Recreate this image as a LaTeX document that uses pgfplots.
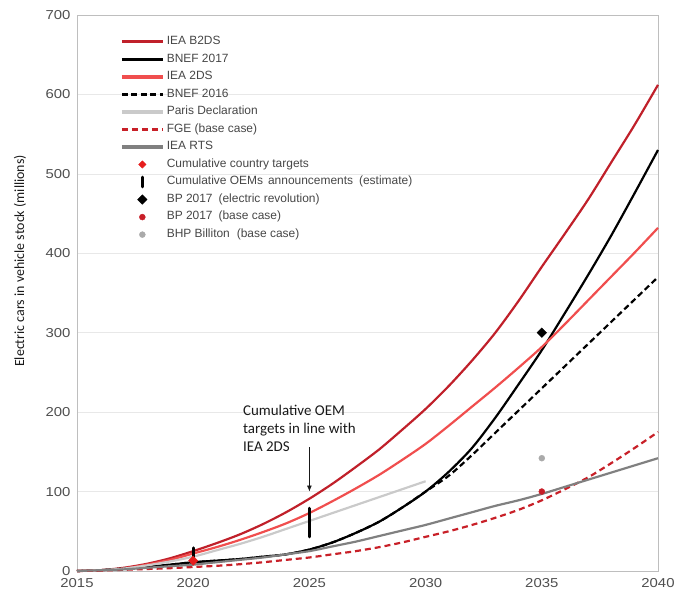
\documentclass[border=0pt]{standalone}
\usepackage{pgfplots}
\pgfplotsset{compat=1.18}
\usetikzlibrary{arrows.meta}
\usepackage{fontspec}
\setmainfont{Liberation Sans}
\newfontfamily\tickfont[FakeStretch=1.15]{Liberation Sans}
\newfontfamily\calfont{Carlito}
\definecolor{ctwodeep}{RGB}{192,32,42}
\definecolor{ctwods}{RGB}{240,78,78}
\definecolor{cparis}{RGB}{202,202,202}
\definecolor{cfge}{RGB}{200,32,40}
\definecolor{crts}{RGB}{128,128,128}
\definecolor{ccountry}{RGB}{230,30,30}
\definecolor{cbpbase}{RGB}{200,30,40}
\definecolor{cbhp}{RGB}{170,170,170}
\definecolor{cgrid}{RGB}{232,232,232}
\definecolor{caxis}{RGB}{190,190,190}
\definecolor{ctext}{RGB}{70,70,70}
\pgfplotsset{
  lineleg/.style={legend image code/.code={\draw[##1,line width=3.5pt] (0cm,0cm) -- (1.45cm,0cm);}},
  markleg/.style={legend image code/.code={\draw[mark repeat=2,mark phase=2,##1] plot coordinates {(0cm,0cm) (0.72cm,0cm) (1.45cm,0cm)};}},
}
\begin{document}
\begin{tikzpicture}
\begin{axis}[
  scale only axis,
  width=581bp, height=556bp,
  xmin=2015, xmax=2040, ymin=0, ymax=700,
  xtick={2015,2020,2025,2030,2035,2040},
  ytick={0,100,200,300,400,500,600,700},
  major tick length=0pt,
  axis line style={draw=caxis, line width=0.6pt},
  ymajorgrids, grid style={draw=cgrid, line width=0.6pt},
  /pgf/number format/assume math mode=true,
  /pgf/number format/1000 sep={},
  ticklabel style={font=\tickfont\fontsize{13}{15}\selectfont, text=ctext!95},
  xticklabel style={inner sep=0.5pt, yshift=-7pt},
  yticklabel style={xshift=-3pt},
  ylabel={Electric cars in vehicle stock (millions)},
  ylabel style={at={(axis description cs:-0.098,0.5576)}, anchor=center, font=\calfont\fontsize{14}{16}\selectfont, text=black!90},
  legend style={draw=none, fill=none, inner sep=0pt, at={(rel axis cs:0.074,0.968)}, anchor=north west,
    font=\fontsize{12}{14}\selectfont, text=ctext,
    nodes={inner xsep=2pt, inner ysep=3.3pt, text height=8.3pt, text depth=2.7pt}},
  legend cell align=left,
  clip=false,
]
\coordinate (ll) at (rel axis cs:0,0);
\coordinate (ur) at (rel axis cs:1,1);
% IEA B2DS
\addplot[ctwodeep, line width=2.2pt, smooth, lineleg] coordinates {
(2015,0)(2016,1)(2017,4)(2018,9)(2019,16)(2020,25)(2021,35)(2022,46)(2023,59)(2024,74)(2025,91)(2026,110)(2027,131)(2028,153)(2029,178)(2030,204)(2031,233)(2032,265)(2033,300)(2034,340)(2035,383)(2036,425)(2037,468)(2038,515)(2039,562)(2040,612)};
% BNEF 2017
\addplot[black, line width=2.2pt, smooth, lineleg] coordinates {
(2015,0)(2016,1)(2017,3)(2018,5)(2019,8)(2020,11)(2021,13)(2022,15)(2023,18)(2024,21)(2025,27)(2026,36)(2027,48)(2028,62)(2029,80)(2030,100)(2031,125)(2032,155)(2033,193)(2034,235)(2035,278)(2036,325)(2037,373)(2038,423)(2039,476)(2040,530)};
% IEA 2DS
\addplot[ctwods, line width=2.2pt, smooth, lineleg] coordinates {
(2015,0)(2016,1)(2017,3)(2018,8)(2019,14)(2020,22)(2021,30)(2022,39)(2023,49)(2024,60)(2025,73)(2026,88)(2027,104)(2028,121)(2029,140)(2030,160)(2031,183)(2032,207)(2033,231)(2034,256)(2035,282)(2036,311)(2037,341)(2038,371)(2039,401)(2040,432)};
% BNEF 2016
\addplot[black, line width=2.2pt, smooth, dash pattern=on 6pt off 3.5pt, lineleg] coordinates {
(2015,0)(2016,1)(2017,3)(2018,5)(2019,8)(2020,11)(2021,13)(2022,15)(2023,18)(2024,21)(2025,27)(2026,36)(2027,48)(2028,62)(2029,80)(2030,100)(2031,120)(2032,146)(2033,174)(2034,202)(2035,230)(2036,258)(2037,286)(2038,314)(2039,342)(2040,370)};
% Paris Declaration
\addplot[cparis, line width=2.2pt, smooth, lineleg] coordinates {
(2015,0)(2016,1)(2017,3)(2018,7)(2019,12)(2020,18)(2021,26)(2022,34)(2023,43)(2024,53)(2025,63)(2026,73)(2027,83)(2028,93)(2029,103)(2030,113)};
% FGE
\addplot[cfge, line width=2.2pt, smooth, dash pattern=on 6pt off 4pt, lineleg] coordinates {
(2015,0)(2016,0.5)(2017,1.5)(2018,2.5)(2019,3.5)(2020,5)(2021,6.5)(2022,8.5)(2023,11)(2024,14)(2025,17)(2026,21)(2027,25)(2028,30)(2029,36)(2030,43)(2031,50)(2032,58)(2033,67)(2034,77)(2035,89)(2036,103)(2037,118)(2038,136)(2039,155)(2040,175)};
% IEA RTS
\addplot[crts, line width=2.2pt, smooth, lineleg] coordinates {
(2015,0)(2016,1)(2017,2)(2018,4)(2019,6)(2020,8)(2021,11)(2022,14)(2023,17)(2024,21)(2025,25)(2026,31)(2027,37)(2028,44)(2029,51)(2030,58)(2031,66)(2032,74)(2033,82)(2034,89)(2035,97)(2036,106)(2037,115)(2038,124)(2039,133)(2040,142)};
% Country targets (legend entry)
\addplot[only marks, mark=square*, mark options={rotate=45}, mark size=2.6pt, color=ccountry, markleg] coordinates {(2020,13)};
% OEM bars
\addplot[black, line width=3pt, line cap=round, unbounded coords=jump,
  legend image code/.code={\draw[black,line width=3pt,line cap=round] (0.72cm,-0.17cm) -- (0.72cm,0.17cm);}] coordinates {
(2020,14)(2020,29)(2020,nan)(2025,43)(2025,79)};
\addplot[only marks, mark=square*, mark options={rotate=45}, mark size=3.4pt, color=black, markleg] coordinates {(2035,300)};
\addplot[only marks, mark=*, mark size=3pt, color=cbpbase, markleg] coordinates {(2035,100)};
\addplot[only marks, mark=*, mark size=3pt, color=cbhp, markleg] coordinates {(2035,142)};
% country target redrawn on top of the OEM bar
\addplot[only marks, mark=square*, mark options={rotate=45}, mark size=3.3pt, color=ccountry, forget plot] coordinates {(2020,13)};
\legend{IEA B2DS,BNEF 2017,IEA 2DS,BNEF 2016,Paris Declaration,FGE (base case),IEA RTS,Cumulative country targets,Cumulative OEMs\hspace{5pt}announcements\hspace{6pt}(estimate),BP 2017\hspace{6pt}(electric revolution),BP 2017\hspace{6pt}(base case),BHP Billiton\hspace{7pt}(base case)}
\node[anchor=north west, align=left, font=\calfont\fontsize{15}{18}\selectfont, text=black!90, inner sep=0pt] at (axis cs:2022.14,209) {Cumulative OEM\\targets in line with\\IEA 2DS};
\draw[-{Latex[length=6pt,width=5pt]}, line width=0.8pt, black!90] (axis cs:2025,156) -- (axis cs:2025,100);
\end{axis}
\pgfresetboundingbox
\path[use as bounding box] ([shift={(-77bp,-20bp)}]ll) rectangle ([shift={(17bp,15bp)}]ur);
\end{tikzpicture}
\end{document}
